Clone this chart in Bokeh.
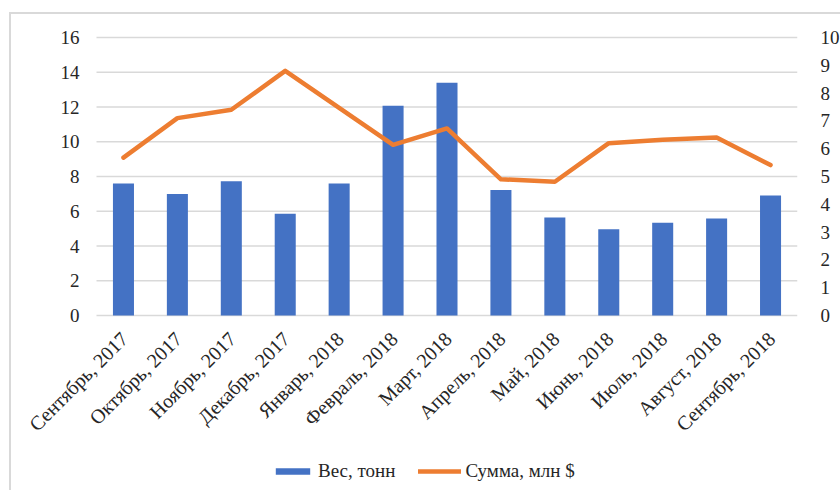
import math
from bokeh.plotting import figure
from bokeh.models import Range1d, LinearAxis, FixedTicker, Legend, LegendItem
from bokeh.core.properties import value
from bokeh.embed import file_html
from bokeh.resources import INLINE

# Monthly export figures
months = ["Сентябрь, 2017", "Октябрь, 2017", "Ноябрь, 2017", "Декабрь, 2017",
          "Январь, 2018", "Февраль, 2018", "Март, 2018", "Апрель, 2018",
          "Май, 2018", "Июнь, 2018", "Июль, 2018", "Август, 2018",
          "Сентябрь, 2018"]
weight_tonnes = [7.6, 7.0, 7.73, 5.85, 7.6, 12.07, 13.4, 7.22, 5.64, 4.97, 5.34, 5.58, 6.91]
amount_musd = [5.68, 7.1, 7.4, 8.8, 7.47, 6.14, 6.73, 4.9, 4.81, 6.2, 6.32, 6.4, 5.41]
left_ticks = [0, 2, 4, 6, 8, 10, 12, 14, 16]
right_ticks = [0, 1, 2, 3, 4, 5, 6, 7, 8, 9, 10]

bar_label = "Вес, тонн"
line_label = "Сумма, млн $"

BLUE = "#4472C4"
ORANGE = "#ED7D31"
GRID = "#D9D9D9"
TEXT = "#262626"
FONT = "Liberation Serif"
FSIZE = "19px"

# one slot per month; slot centres sit at i + 0.5
n = len(months)
slots = [i + 0.5 for i in range(n)]

# Layout: the data area is 701 x 278 px.  The frame is larger (it also holds
# the left tick labels, the tilted month names and the legend), so the ranges
# are stretched to keep that data area in place.
DATA_W, DATA_H = 701, 278
LEFT_PAD, TOP_PAD, BOTTOM_PAD = 85, 23, 175
slot_px = DATA_W / n
above = TOP_PAD / DATA_H
below = BOTTOM_PAD / DATA_H
left_max, right_max = left_ticks[-1], right_ticks[-1]

p = figure(
    x_range=Range1d(-LEFT_PAD / slot_px, n),
    y_range=Range1d(-left_max * below, left_max * (1 + above)),
    frame_width=DATA_W + LEFT_PAD, frame_height=DATA_H + TOP_PAD + BOTTOM_PAD,
    output_backend="svg", toolbar_location=None,
    x_axis_location=None, y_axis_location=None,
    min_border_left=0, min_border_top=0, min_border_right=40, min_border_bottom=0,
    margin=(12, 0, 0, 9),
    styles={"border-left": "2px solid #D9D9D9", "border-top": "2px solid #D9D9D9"},
)
p.outline_line_color = None
p.xgrid.grid_line_color = None
p.ygrid.grid_line_color = None
p.extra_y_ranges = {"right": Range1d(-right_max * below, right_max * (1 + above))}

# horizontal gridlines across the data area
p.segment(x0=0, x1=n, y0=left_ticks, y1=left_ticks, line_color=GRID, line_width=1.5)

bars = p.vbar(x=slots, top=weight_tonnes, width=0.39, color=BLUE, line_color=None)
line = p.line(x=slots, y=amount_musd, y_range_name="right",
              line_color=ORANGE, line_width=4.5, line_join="round", line_cap="round")

# left scale (tonnes)
p.text(x=0, y=left_ticks, text=[str(t) for t in left_ticks], x_offset=-17,
       text_align="right", text_baseline="middle",
       text_font=value(FONT), text_font_size=FSIZE, text_color=TEXT)

# month names under the zero line, tilted 45 degrees
p.text(x=slots, y=[0] * n, text=months, angle=math.pi / 4,
       x_offset=1, y_offset=20,
       text_align="right", text_baseline="middle",
       text_font=value(FONT), text_font_size="20px", text_color=TEXT)

# right scale (million $)
right_axis = LinearAxis(y_range_name="right", ticker=FixedTicker(ticks=right_ticks))
right_axis.axis_line_color = None
right_axis.major_tick_line_color = None
right_axis.minor_tick_line_color = None
right_axis.major_label_text_font = FONT
right_axis.major_label_text_font_size = FSIZE
right_axis.major_label_text_color = TEXT
right_axis.major_label_standoff = 17
p.add_layout(right_axis, "right")

legend = Legend(
    items=[LegendItem(label=bar_label, renderers=[bars]),
           LegendItem(label=line_label, renderers=[line])],
    orientation="horizontal", location=(260, 8),
    glyph_width=43, glyph_height=8, label_standoff=4, spacing=23,
    border_line_color=None, background_fill_alpha=0, padding=0, margin=0,
)
legend.label_text_font = FONT
legend.label_text_font_size = FSIZE
legend.label_text_color = TEXT
p.add_layout(legend)

open("out.html", "w").write(file_html(p, INLINE))
